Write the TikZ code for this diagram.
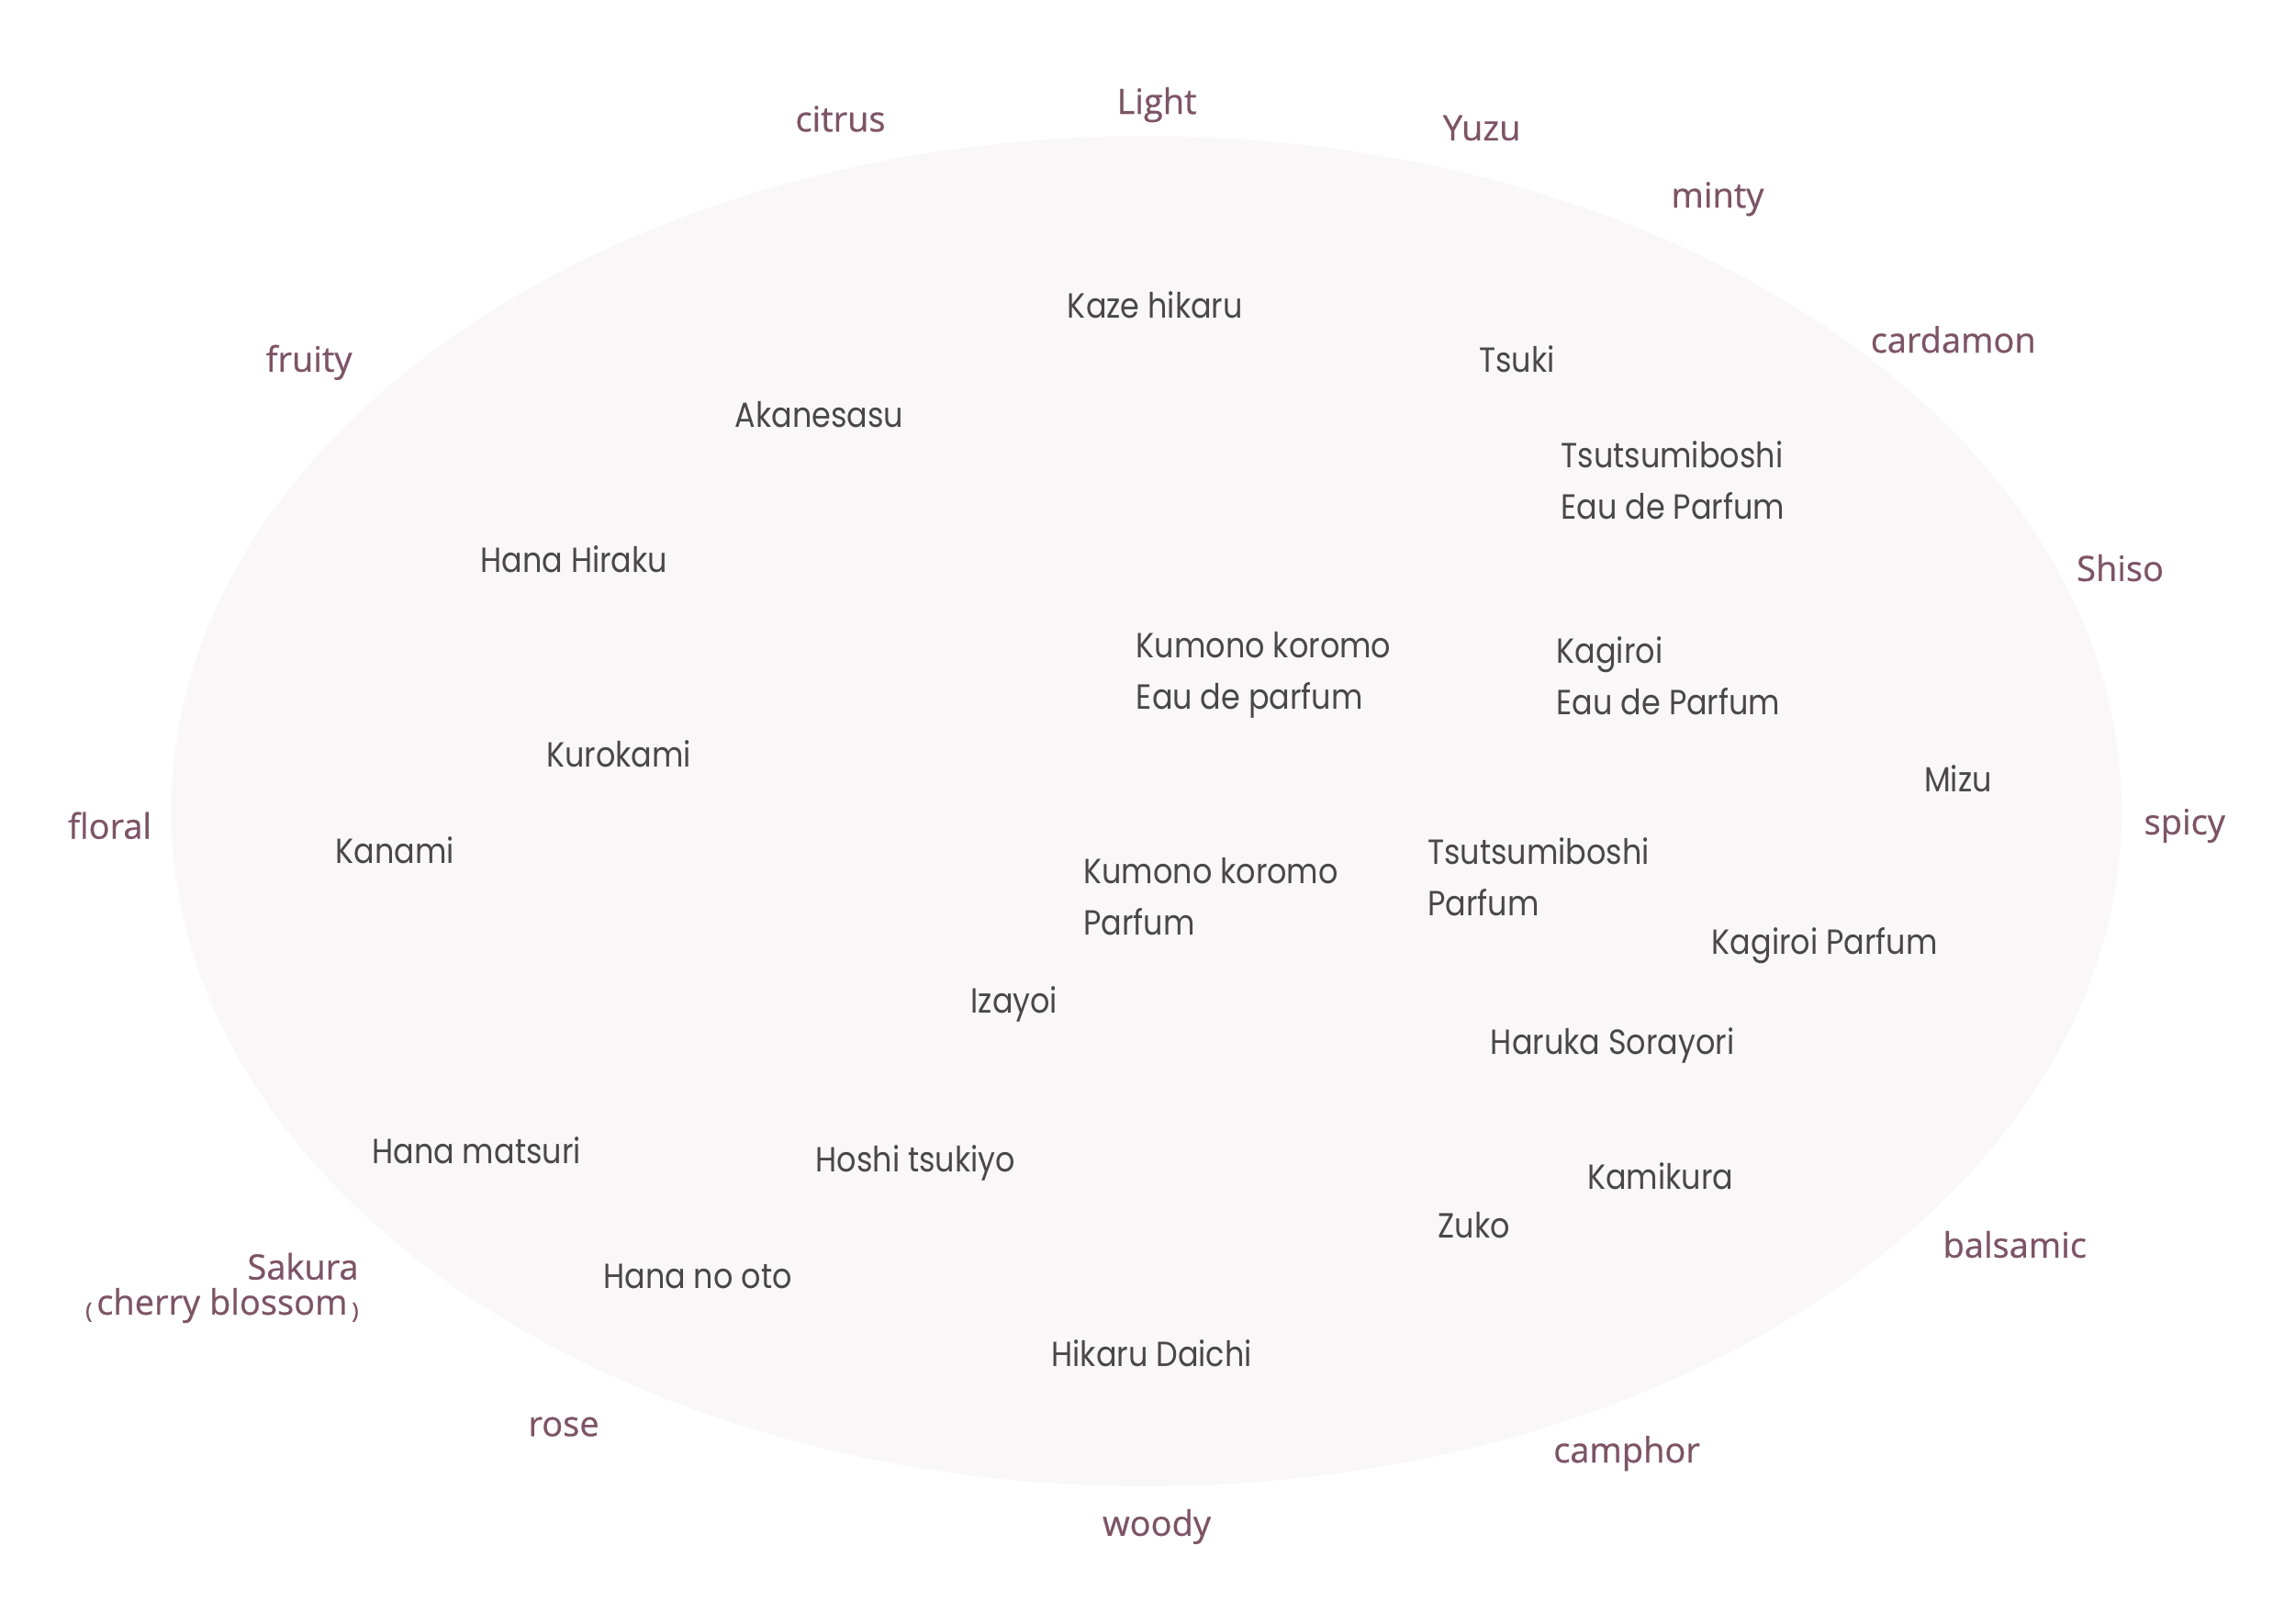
\documentclass[tikz,border=0pt]{standalone}
\usepackage{fontspec}
\setmainfont[FakeBold=0.6]{Open Sans}
\newfontfamily\itemfont[FakeStretch=0.88]{Poppins}
\definecolor{ellfill}{HTML}{F9F7F8}
\definecolor{catcol}{HTML}{7D5464}
\definecolor{itemcol}{HTML}{4A4748}
\begin{document}
\begin{tikzpicture}[x=1.595pt,y=-1.595pt,
  cat/.style={text=catcol,font=\fontsize{38}{46}\selectfont,inner sep=0pt,anchor=center,text height=28pt,text depth=0pt},
  item/.style={text=itemcol,font=\itemfont\fontsize{38}{56}\selectfont,inner sep=0pt,anchor=west,align=left}]
\useasboundingbox[fill=white] (0,0) rectangle (1567.4,1108.5);
\fill[ellfill] (783,554) ellipse [x radius=666, y radius=461];
% categories
\node[cat] (citrus) at (574,81) {citrus};
\node[cat] (light) at (790,69) {Light};
\node[cat] (yuzu) at (1012,87) {Yuzu};
\node[cat] (minty) at (1173,133) {minty};
\node[cat] (cardamon) at (1334,232) {cardamon};
\node[cat] (fruity) at (211,245) {fruity};
\node[cat] (shiso) at (1448,388) {Shiso};
\node[cat] (floral) at (75,564) {floral};
\node[cat] (spicy) at (1492,561) {spicy};
\node[cat] (balsamic) at (1376,850) {balsamic};
\node[cat,anchor=east] (sakura) at (245,865) {Sakura};
\node[cat,anchor=east] (cherry) at (245,889) {\raisebox{-4pt}{\fontsize{24}{24}\selectfont(}\hspace{5pt}cherry blossom\hspace{5pt}\raisebox{-4pt}{\fontsize{24}{24}\selectfont)}};
\node[cat] (rose) at (385,972) {rose};
\node[cat] (camphor) at (1111,990) {camphor};
\node[cat] (woody) at (790,1040) {woody};
% items
\node[item] (kaze) at (729,208) {Kaze hikaru};
\node[item] (tsuki) at (1010,245) {Tsuki};
\node[item] (akane) at (502,283) {Akanesasu};
\node[item] (tsutsuedp) at (1066,328) {Tsutsumiboshi\\Eau de Parfum};
\node[item] (hanahiraku) at (328,382) {Hana Hiraku};
\node[item] (kumonoedp) at (776,461) {Kumono koromo\\Eau de parfum};
\node[item] (kagiroiedp) at (1063,461.5) {Kagiroi\\Eau de Parfum};
\node[item] (kurokami) at (373,515) {Kurokami};
\node[item] (mizu) at (1314,532) {Mizu};
\node[item] (kanami) at (229,581) {Kanami};
\node[item] (tsutsup) at (975,599) {Tsutsumiboshi\\Parfum};
\node[item] (kumonop) at (740,612) {Kumono koromo\\Parfum};
\node[item] (kagiroip) at (1169,646) {Kagiroi Parfum};
\node[item] (izayoi) at (663,686) {Izayoi};
\node[item] (haruka) at (1018,714) {Haruka Sorayori};
\node[item] (hanamatsuri) at (254,786) {Hana matsuri};
\node[item] (hoshi) at (557,794) {Hoshi tsukiyo};
\node[item] (kamikura) at (1084,803) {Kamikura};
\node[item] (zuko) at (982,837) {Zuko};
\node[item] (hananooto) at (412,872) {Hana no oto};
\node[item] (hikaru) at (718,924) {Hikaru Daichi};
\end{tikzpicture}
\end{document}
